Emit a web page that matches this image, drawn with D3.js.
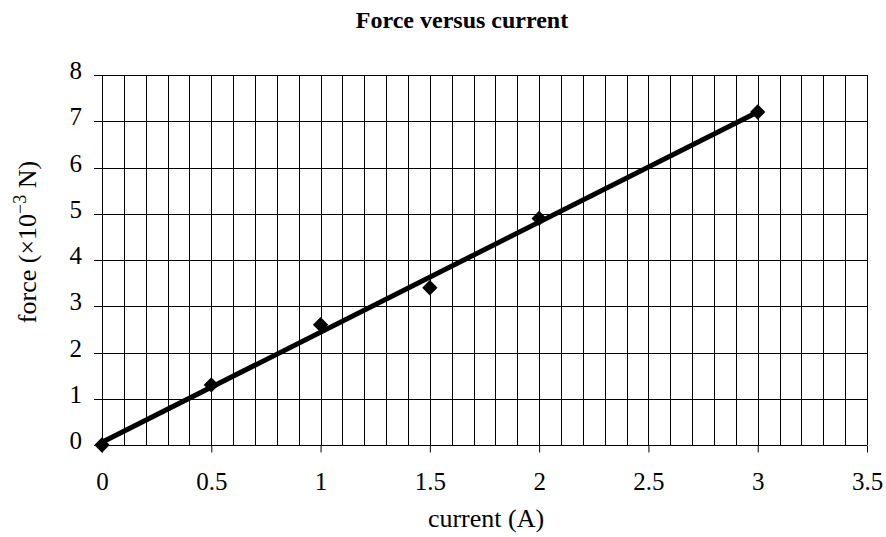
<!DOCTYPE html>
<html>
<head>
<meta charset="utf-8">
<script src="https://cdn.jsdelivr.net/npm/d3@7.9.0/dist/d3.min.js"></script>
<style>
  body { margin: 0; background: #fff; }
  text { font-family: "Liberation Serif", "Times New Roman", serif; fill: #000; }
</style>
</head>
<body>
<svg id="chart" width="886" height="537"></svg>
<script>
// measured points
const currents = [0, 0.5, 1, 1.5, 2, 3];
const forces   = [0, 1.3, 2.6, 3.4, 4.9, 7.2];
const xTicks = [0, 0.5, 1, 1.5, 2, 2.5, 3, 3.5];
const yTicks = [0, 1, 2, 3, 4, 5, 6, 7, 8];

const svg = d3.select("#chart");
const margin = { top: 75, right: 19, bottom: 92, left: 102 };
const width  = +svg.attr("width")  - margin.left - margin.right;
const height = +svg.attr("height") - margin.top  - margin.bottom;

const g = svg.append("g")
    .attr("transform", `translate(${margin.left},${margin.top})`);

const x = d3.scaleLinear().domain([0, 3.5]).range([0, width]);
const y = d3.scaleLinear().domain([0, 8]).range([height, 0]);

// vertical grid every 0.1
const minorX = d3.range(0, 36).map(i => i / 10);
g.append("g")
    .selectAll("line")
    .data(minorX)
    .enter().append("line")
    .attr("x1", d => Math.round(x(d)) + 0.5)
    .attr("x2", d => Math.round(x(d)) + 0.5)
    .attr("y1", 0)
    .attr("y2", height)
    .attr("stroke", "#000")
    .attr("stroke-width", 1);

// horizontal grid + y ticks
g.append("g")
    .selectAll("line")
    .data(yTicks)
    .enter().append("line")
    .attr("x1", -8)
    .attr("x2", width)
    .attr("y1", d => Math.round(y(d)) + 0.5)
    .attr("y2", d => Math.round(y(d)) + 0.5)
    .attr("stroke", "#000")
    .attr("stroke-width", 1);

// x axis ticks
const xAxis = g.append("g")
    .attr("transform", `translate(0,${Math.round(height) + 0.5})`)
    .call(d3.axisBottom(x).tickValues(xTicks).tickSize(7).tickSizeOuter(0)
        .tickFormat(d3.format("")));
xAxis.select(".domain").remove();
xAxis.selectAll("line").attr("stroke", "#000");
xAxis.selectAll("text")
    .attr("dy", 0)
    .attr("y", 44)
    .style("font-size", "25px")
    .style("font-family", "Liberation Serif, serif");

// y labels
g.append("g")
    .selectAll("text")
    .data(yTicks)
    .enter().append("text")
    .attr("x", -20)
    .attr("y", d => y(d) + 4)
    .attr("text-anchor", "end")
    .style("font-size", "25px")
    .text(d => d);

// trend line (least squares)
const mx = d3.mean(currents), my = d3.mean(forces);
const slope = d3.sum(currents, (c, i) => (c - mx) * (forces[i] - my)) /
              d3.sum(currents, c => (c - mx) * (c - mx));
const icpt = my - slope * mx;
const xMax = d3.max(currents);
g.append("line")
    .attr("x1", x(0)).attr("y1", y(icpt))
    .attr("x2", x(xMax)).attr("y2", y(icpt + slope * xMax))
    .attr("stroke", "#000")
    .attr("stroke-width", 5);

// markers
const diamond = d3.symbol().type(d3.symbolDiamond2).size(150);
g.selectAll(".pt")
    .data(currents)
    .enter().append("path")
    .attr("class", "pt")
    .attr("d", diamond)
    .attr("fill", "#000")
    .attr("transform", (d, i) => `translate(${x(d)},${y(forces[i])})`);

// title
svg.append("text")
    .attr("x", 462)
    .attr("y", 28)
    .attr("text-anchor", "middle")
    .style("font-size", "24px")
    .style("font-weight", "bold")
    .text("Force versus current");

// axis titles
svg.append("text")
    .attr("x", 486)
    .attr("y", 527)
    .attr("text-anchor", "middle")
    .style("font-size", "26px")
    .text("current (A)");

const yl = svg.append("text")
    .attr("transform", `translate(36,242) rotate(-90)`)
    .attr("text-anchor", "middle")
    .style("font-size", "26px");
yl.append("tspan").text("force (\u00d710");
yl.append("tspan").attr("dy", -10).style("font-size", "18px").text("\u22123");
yl.append("tspan").attr("dy", 10).text(" N)");
</script>
</body>
</html>
